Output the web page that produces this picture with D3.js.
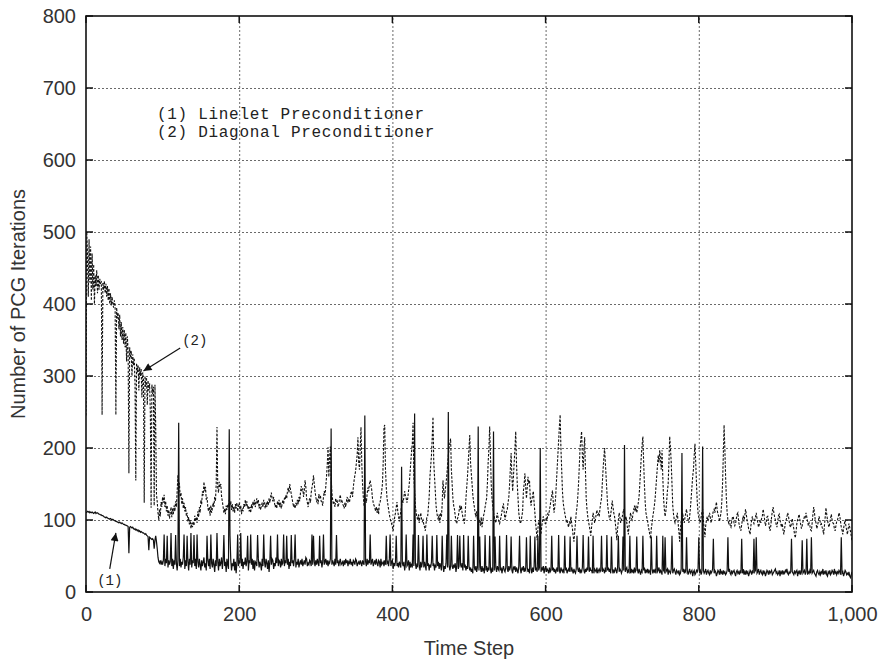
<!DOCTYPE html>
<html>
<head>
<meta charset="utf-8">
<script src="https://d3js.org/d3.v7.min.js"></script>
<title>PCG Iterations</title>
<style>
  body { margin: 0; background: white; }
  svg { display: block; font-family: 'Liberation Sans', Arial, sans-serif; }
  .tick text { font-size: 20px; fill: #333; }
  .grid line { stroke: #444; stroke-width: 0.8; stroke-dasharray: 2,2; }
  .legend { font-family: 'Liberation Mono', 'Courier New', monospace; font-size: 16px; letter-spacing: 0.7px; fill: #222; }
  .note { font-family: 'Liberation Mono', 'Courier New', monospace; font-size: 14px; fill: #222; }
</style>
</head>
<body>
<div id="chart"></div>
<script>
// iterations per time step (index = time step 0..1000)
const lineletIter = [
  110,111,112,111,112,110,111,110,111,110,109,110,111,109,110,110,109,108,108,107,
  107,106,106,105,104,104,103,104,103,102,102,101,102,101,100,101,100,99,99,98,
  98,97,97,96,97,96,95,96,95,94,94,93,93,92,92,91,54,90,91,90,
  89,90,88,87,88,86,87,85,86,84,85,83,84,83,82,82,81,80,81,79,
  78,77,58,76,75,74,73,74,72,60,72,78,70,60,48,42,40,44,38,42,
  38,44,80,36,46,40,78,34,44,38,42,82,36,46,32,44,38,79,40,30,
  44,235,36,46,34,42,38,48,80,32,44,36,78,42,30,46,38,82,34,44,
  40,79,36,46,32,80,42,34,46,38,30,44,36,42,48,34,40,30,78,44,
  36,46,32,80,40,34,46,38,28,44,36,82,42,30,46,36,40,48,32,44,
  79,36,42,28,46,38,32,226,78,44,30,40,36,46,30,42,26,40,80,36,
  44,40,82,36,46,32,42,38,48,36,42,78,30,44,40,80,38,46,32,44,
  30,42,40,36,79,46,34,42,38,30,46,36,80,42,34,46,40,32,44,28,
  42,78,38,46,44,32,40,36,48,40,80,36,44,42,34,46,38,40,80,36,
  44,40,78,38,46,32,42,36,79,40,44,36,46,80,34,42,38,46,34,40,
  44,38,46,36,40,44,38,48,46,36,40,38,44,42,36,80,38,78,42,36,
  44,38,46,40,36,78,40,44,34,42,80,38,42,46,38,44,36,42,40,46,
  227,38,44,40,36,46,38,79,40,44,36,42,46,38,40,42,36,44,38,46,
  40,44,36,42,40,46,38,42,36,44,42,38,46,44,36,40,42,38,44,40,
  36,44,40,38,245,42,36,46,38,44,40,80,38,42,46,36,40,44,38,46,
  40,36,44,42,34,46,38,40,42,36,44,38,78,40,42,36,46,80,36,42,
  44,32,40,36,42,78,36,40,34,42,38,34,174,40,36,42,30,38,80,36,
  38,44,30,42,34,38,36,80,36,248,40,32,38,36,79,38,30,42,34,40,
  78,34,42,36,30,80,36,40,30,38,34,42,78,36,40,30,38,34,79,36,
  42,32,40,36,30,78,38,28,36,32,40,80,34,250,38,30,36,78,36,32,
  38,34,40,28,36,79,32,36,78,38,34,40,30,79,34,38,30,36,32,78,
  36,30,34,28,32,26,78,34,30,36,28,34,230,30,77,34,28,36,30,32,
  26,79,30,36,28,34,30,78,32,26,34,28,223,30,77,34,28,36,32,30,
  78,30,34,26,32,36,30,28,34,79,32,28,36,30,34,77,30,26,34,32,
  36,28,34,30,26,36,78,32,26,34,30,36,28,32,30,76,34,28,32,26,
  78,32,26,34,28,36,77,30,34,28,78,30,34,200,28,34,30,36,26,32,
  36,28,32,30,26,34,28,30,78,30,34,28,32,26,30,34,28,79,30,26,
  34,30,28,32,26,78,30,34,26,30,32,28,77,28,34,30,26,32,28,26,
  32,78,32,28,34,26,30,28,34,79,30,26,32,28,34,30,77,28,34,30,
  30,26,78,26,32,30,28,34,26,30,32,28,30,78,28,32,30,26,34,28,
  79,30,34,28,32,26,77,32,26,30,28,34,30,26,34,78,28,32,30,26,
  30,77,30,204,28,32,34,26,30,28,78,26,32,28,30,26,34,28,30,77,
  30,26,32,28,24,30,28,78,30,34,26,30,28,32,26,30,28,24,77,32,
  26,30,28,32,26,78,28,30,34,26,30,28,24,78,30,28,76,28,30,32,
  24,30,28,26,32,78,26,30,32,28,24,30,28,26,30,24,26,32,193,28,
  32,26,30,28,76,30,24,28,32,26,28,30,22,28,30,24,26,30,28,32,
  76,28,30,24,28,202,30,26,28,32,24,28,30,26,24,30,26,28,32,74,
  26,30,28,22,26,30,28,24,32,26,28,24,30,26,28,24,26,30,76,28,
  32,26,24,30,26,28,30,26,22,28,30,26,28,24,30,26,74,26,32,24,
  28,24,30,26,28,22,26,30,28,24,30,26,74,28,30,76,26,28,32,24,
  28,30,26,24,30,26,28,22,26,30,28,24,30,26,28,30,24,26,28,30,
  32,26,28,24,26,30,22,28,26,30,24,28,26,30,28,32,26,24,28,26,
  28,74,28,26,24,30,26,28,30,22,28,26,30,24,28,72,26,28,30,24,
  28,74,24,28,26,30,26,76,26,28,30,26,24,22,28,30,26,24,28,24,
  28,26,32,24,28,26,30,24,22,28,26,30,24,26,30,28,24,32,26,28,
  24,28,26,30,28,24,76,26,28,22,26,30,28,24,26,24,28,22,20,24,
  28
];

const diagonalIter = [
  245,500,470,410,490,430,480,405,470,420,455,400,440,425,447,415,440,420,435,428,
  432,246,430,420,432,415,428,410,425,405,422,400,415,398,410,401,395,405,398,246,
  395,380,388,365,385,355,375,350,368,345,364,340,360,320,355,335,165,340,325,335,
  300,330,315,325,290,155,318,305,315,280,312,300,310,270,305,295,124,300,285,298,
  260,294,280,290,250,117,288,275,285,120,288,230,135,125,110,100,115,105,125,118,
  132,124,135,118,126,112,120,106,114,102,110,118,104,116,108,120,112,126,118,140,
  162,148,150,132,138,122,130,116,124,112,118,106,110,98,104,94,100,88,96,90,
  98,92,106,98,104,96,112,104,118,110,128,122,140,134,153,140,146,128,132,118,
  112,118,106,120,110,116,124,118,132,126,150,229,145,138,153,146,150,132,126,118,
  110,116,108,120,114,122,118,128,120,126,114,122,112,118,110,122,116,124,112,118,
  124,114,120,108,116,112,122,118,128,120,126,116,120,112,118,110,122,116,126,120,
  128,118,124,130,122,128,116,122,114,120,124,118,128,122,116,124,118,126,120,130,
  124,132,138,130,126,132,124,118,122,116,126,120,128,118,124,116,122,128,122,130,
  128,135,130,140,145,138,150,142,136,130,124,118,122,116,124,120,128,122,132,126,
  138,147,140,144,132,140,155,146,130,124,118,126,130,124,138,145,152,162,150,140,
  132,126,128,122,136,130,134,126,125,120,132,140,134,146,160,178,201,160,186,202,
  160,138,128,122,125,118,130,124,126,118,122,130,135,126,128,122,120,116,124,118,
  126,132,124,128,125,132,138,140,132,146,155,162,168,180,190,215,180,170,200,229,
  180,150,132,120,126,130,124,136,145,140,150,155,148,142,130,124,120,118,112,118,
  110,116,108,124,125,132,140,150,180,229,232,170,145,130,122,115,108,102,98,95,
  90,85,96,104,110,118,125,112,105,98,105,112,120,128,124,132,140,134,130,124,
  130,140,150,165,180,195,206,235,160,140,120,110,104,100,108,96,104,110,102,98,
  100,94,90,85,96,104,105,118,132,160,175,190,215,243,180,160,140,120,110,104,
  100,108,96,110,104,122,155,140,130,142,150,162,175,190,200,206,213,170,150,130,
  120,115,106,98,95,102,105,112,120,114,120,110,104,100,95,108,130,145,160,180,
  200,218,180,165,150,135,125,118,110,104,112,100,108,96,100,92,104,90,98,106,
  110,118,124,130,150,180,200,230,190,150,130,120,110,104,100,96,104,110,102,98,
  95,100,105,112,118,123,110,100,106,112,115,124,132,150,172,193,160,140,160,180,
  200,223,180,150,130,110,102,95,98,105,112,140,150,165,145,130,145,160,150,155,
  130,120,128,134,140,124,110,96,84,72,88,100,94,86,80,92,98,105,100,96,
  95,104,100,110,106,114,120,128,134,141,125,110,118,130,150,170,190,210,230,246,
  200,170,140,124,116,110,104,98,100,94,90,98,94,105,96,88,78,70,84,96,
  110,118,132,150,175,200,212,223,190,170,195,215,170,130,115,105,98,92,86,78,
  90,100,110,104,96,100,108,114,106,110,105,116,124,130,150,170,186,200,180,160,
  140,120,112,104,100,108,116,127,118,110,105,96,86,72,88,100,110,104,96,100,
  104,110,115,108,100,105,96,88,80,92,104,110,102,100,108,114,120,112,120,110,
  116,124,132,150,170,190,204,216,180,150,125,110,104,100,92,86,80,74,88,96,
  105,112,120,130,145,160,175,190,180,197,185,170,197,160,130,115,105,112,125,140,
  150,180,216,200,180,150,120,108,100,96,100,104,110,96,84,70,88,98,105,110,
  100,96,104,110,115,106,100,96,104,116,130,145,160,170,190,206,180,150,125,110,
  104,100,96,104,110,115,100,88,76,92,100,105,98,104,110,104,96,100,108,112,
  115,110,118,125,114,108,105,98,104,110,125,150,190,232,200,160,130,110,100,96,
  100,92,90,98,104,105,96,92,95,102,108,110,98,92,88,85,94,100,106,98,
  106,115,108,100,95,88,84,80,92,100,105,98,95,100,104,110,102,96,90,94,
  100,96,102,106,115,108,100,92,96,104,105,98,90,85,92,104,112,118,110,104,
  100,94,90,98,106,108,100,95,90,95,86,80,88,96,100,104,110,106,98,92,
  90,96,102,94,88,80,75,84,95,100,104,108,100,94,88,92,98,100,106,104,
  110,104,98,92,96,92,86,85,96,108,118,110,100,96,88,92,98,105,100,94,
  95,90,86,80,92,104,117,108,100,94,90,96,102,108,100,96,95,88,85,92,
  98,100,104,110,106,98,90,86,80,88,95,100,92,86,80,88,95,90,84,78,
  70
];

const xTicks = [0, 200, 400, 600, 800, 1000];
const yTicks = [0, 100, 200, 300, 400, 500, 600, 700, 800];
const legendLines = ["(1) Linelet Preconditioner", "(2) Diagonal Preconditioner"];
// label position, arrow tail, arrow tip (data units)
const notes = [
  { label: "(1)", at: [31, 17], from: [31, 32], to: [39, 82] },
  { label: "(2)", at: [142, 350], from: [123, 339], to: [75, 307] }
];

const w = 882;
const h = 659;
const pLeft = 86, pRight = 852, pTop = 16, pBottom = 592;

const x = d3.scaleLinear().domain([0, 1000]).range([pLeft, pRight]);
const y = d3.scaleLinear().domain([0, 800]).range([pBottom, pTop]);

const svg = d3.select("#chart").append("svg")
    .attr("width", w)
    .attr("height", h);

const defs = svg.append("defs");
defs.append("clipPath").attr("id", "plot")
  .append("rect")
    .attr("x", pLeft).attr("y", pTop)
    .attr("width", pRight - pLeft).attr("height", pBottom - pTop);

const mk = defs.append("marker")
    .attr("id", "arrow")
    .attr("viewBox", "0 0 10 10")
    .attr("refX", 10).attr("refY", 5)
    .attr("markerWidth", 11).attr("markerHeight", 8)
    .attr("markerUnits", "userSpaceOnUse")
    .attr("orient", "auto");
mk.append("path").attr("d", "M0,0 L10,5 L0,10 z").attr("fill", "#111");

// grid
svg.append("g")
    .attr("class", "grid")
    .attr("transform", `translate(0,${pBottom})`)
    .call(d3.axisBottom(x).tickValues(xTicks.slice(1, -1)).tickSize(-(pBottom - pTop)).tickFormat(""))
    .call(g => g.select(".domain").remove());
svg.append("g")
    .attr("class", "grid")
    .attr("transform", `translate(${pLeft},0)`)
    .call(d3.axisLeft(y).tickValues(yTicks.slice(1, -1)).tickSize(-(pRight - pLeft)).tickFormat(""))
    .call(g => g.select(".domain").remove());

// tick labels
svg.append("g")
    .attr("transform", `translate(0,${pBottom})`)
    .call(d3.axisBottom(x).tickValues(xTicks).tickSize(0).tickPadding(15).tickFormat(d3.format(",")))
    .call(g => g.select(".domain").remove());
svg.append("g")
    .attr("transform", `translate(${pLeft},0)`)
    .call(d3.axisLeft(y).tickValues(yTicks).tickSize(0).tickPadding(10))
    .call(g => g.select(".domain").remove());

// series
const line = d3.line().x((d, i) => x(i)).y(d => y(d));
const plot = svg.append("g").attr("clip-path", "url(#plot)");
plot.append("path")
    .datum(diagonalIter)
    .attr("d", line)
    .attr("fill", "none")
    .attr("stroke", "#111")
    .attr("stroke-width", 1.1)
    .attr("stroke-dasharray", "2.5,1.5");
plot.append("path")
    .datum(lineletIter)
    .attr("d", line)
    .attr("fill", "none")
    .attr("stroke", "#111")
    .attr("stroke-width", 1.2);

// inward ticks on all sides
const tk = svg.append("g").attr("stroke", "#111").attr("stroke-width", 1.5);
xTicks.forEach(t => {
  tk.append("line").attr("x1", x(t)).attr("x2", x(t)).attr("y1", pBottom).attr("y2", pBottom - 7);
  tk.append("line").attr("x1", x(t)).attr("x2", x(t)).attr("y1", pTop).attr("y2", pTop + 7);
});
yTicks.forEach(t => {
  tk.append("line").attr("x1", pLeft).attr("x2", pLeft + 7).attr("y1", y(t)).attr("y2", y(t));
  tk.append("line").attr("x1", pRight).attr("x2", pRight - 7).attr("y1", y(t)).attr("y2", y(t));
});

// frame
svg.append("rect")
    .attr("x", pLeft).attr("y", pTop)
    .attr("width", pRight - pLeft).attr("height", pBottom - pTop)
    .attr("fill", "none")
    .attr("stroke", "#111")
    .attr("stroke-width", 1.6);

// legend text
svg.selectAll(".legend")
  .data(legendLines)
  .enter()
  .append("text")
    .attr("class", "legend")
    .attr("x", 157)
    .attr("y", (d, i) => 119 + i * 18)
    .attr("xml:space", "preserve")
    .text(d => d);

// annotations
notes.forEach(n => {
  svg.append("line")
      .attr("x1", x(n.from[0])).attr("y1", y(n.from[1]))
      .attr("x2", x(n.to[0])).attr("y2", y(n.to[1]))
      .attr("stroke", "#111").attr("stroke-width", 1.2)
      .attr("marker-end", "url(#arrow)");
  svg.append("text")
      .attr("class", "note")
      .attr("x", x(n.at[0])).attr("y", y(n.at[1]))
      .attr("text-anchor", "middle")
      .attr("dy", "0.35em")
      .text(n.label);
});

// axis titles
svg.append("text")
    .attr("x", (pLeft + pRight) / 2)
    .attr("y", 655)
    .attr("text-anchor", "middle")
    .attr("font-size", 20)
    .attr("fill", "#333")
    .text("Time Step");
svg.append("text")
    .attr("transform", `translate(25,${(pTop + pBottom) / 2}) rotate(-90)`)
    .attr("text-anchor", "middle")
    .attr("font-size", 20)
    .attr("fill", "#333")
    .text("Number of PCG Iterations");
</script>
</body>
</html>
